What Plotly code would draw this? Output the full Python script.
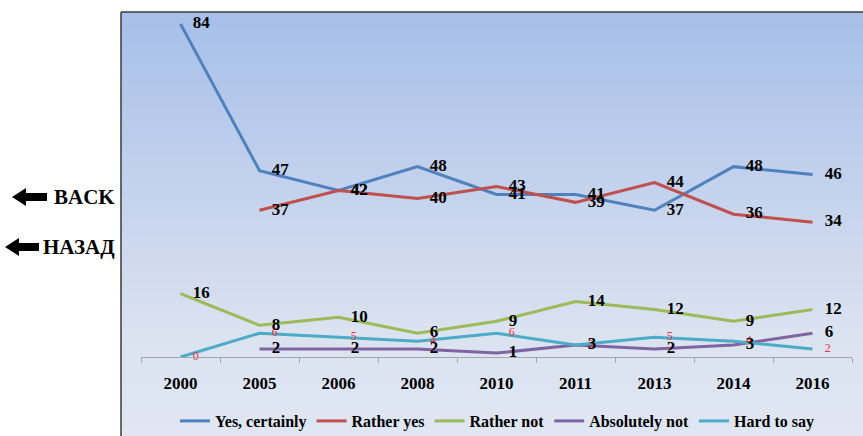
import plotly.graph_objects as go

years = ["2000", "2005", "2006", "2008", "2010", "2011", "2013", "2014", "2016"]
yes_certainly = [84, 47, 42, 48, 41, 41, 37, 48, 46]
rather_yes = [None, 37, 42, 40, 43, 39, 44, 36, 34]
rather_not = [16, 8, 10, 6, 9, 14, 12, 9, 12]
absolutely_not = [None, 2, 2, 2, 1, 3, 2, 3, 6]
hard_to_say = [0, 6, 5, 4, 6, 3, 5, 4, 2]

series = [
    ("Yes, certainly", yes_certainly, "#4f81bd"),
    ("Rather yes", rather_yes, "#c0504d"),
    ("Rather not", rather_not, "#9bbb59"),
    ("Absolutely not", absolutely_not, "#8064a2"),
    ("Hard to say", hard_to_say, "#4bacc6"),
]

W, H = 863, 436
L, R, T, B = 141, 11, 12, 79
pw, ph = W - L - R, H - T - B

def px2x(p):
    return (p - L) / pw

def py2y(p):
    return (H - B - p) / ph

fig = go.Figure()
serif = "Liberation Serif, Times New Roman, DejaVu Serif, serif"

for name, vals, col in series:
    fig.add_trace(go.Scatter(
        x=years, y=vals, name=name, mode="lines",
        line=dict(color=col, width=3), hoverinfo="skip",
    ))

label_order = [series[4]] + series[:4]
for name, vals, col in label_order:
    small = name == "Hard to say"
    fig.add_trace(go.Scatter(
        x=years, y=vals, name=name + " labels", mode="markers+text", showlegend=False,
        marker=dict(size=18, opacity=0, color=col),
        text=[None if v is None else str(v) for v in vals],
        textposition="middle right",
        textfont=dict(family=serif, size=17 if not small else 12,
                      color="#000000" if not small else "#e8323c",
                      weight="bold" if not small else "normal"),
        cliponaxis=False, hoverinfo="skip",
    ))

shapes = []
def lerp(a, b, t):
    return tuple(int(round(a[i] + (b[i] - a[i]) * t)) for i in range(3))
top_c = (0xa7, 0xbf, 0xe9)
mid_c = (0xdb, 0xe2, 0xf0)
bot_c = (0xe0, 0xe7, 0xf3)
y = 12
step = 4
while y < H:
    if y < 330:
        c = lerp(top_c, mid_c, (y - 12) / (330 - 12))
    else:
        c = lerp(mid_c, bot_c, (y - 330) / (H - 330))
    shapes.append(dict(type="rect", xref="paper", yref="paper",
                       x0=px2x(121), x1=px2x(W + 2), y0=py2y(y + step + 0.5), y1=py2y(y),
                       fillcolor="rgb(%d,%d,%d)" % c, line=dict(width=0), layer="below"))
    y += step
shapes.append(dict(type="line", xref="paper", yref="paper", x0=px2x(121), x1=px2x(121),
                   y0=py2y(12), y1=py2y(H + 2), line=dict(color="#3a3a3a", width=1.5)))
shapes.append(dict(type="line", xref="paper", yref="paper", x0=px2x(121), x1=px2x(W + 2),
                   y0=py2y(12), y1=py2y(12), line=dict(color="#3a3a3a", width=1.5)))

def arrow(x_tip, x_end, yc, head_len=14, head_h=9, shaft_h=4):
    pts = [(x_tip, yc), (x_tip + head_len, yc - head_h), (x_tip + head_len, yc - shaft_h),
           (x_end, yc - shaft_h), (x_end, yc + shaft_h), (x_tip + head_len, yc + shaft_h),
           (x_tip + head_len, yc + head_h)]
    path = "M " + " L ".join("%f,%f" % (px2x(a), py2y(b)) for a, b in pts) + " Z"
    return dict(type="path", xref="paper", yref="paper", path=path,
                fillcolor="#000000", line=dict(width=0))
shapes.append(arrow(12, 47, 197))
shapes.append(arrow(5, 39, 247))

annotations = [
    dict(text="BACK", x=px2x(52), y=py2y(197), xref="paper", yref="paper",
         xanchor="left", yanchor="middle", showarrow=False,
         font=dict(family=serif, size=21, color="#000", weight="bold")),
    dict(text="НАЗАД", x=px2x(41), y=py2y(247), xref="paper", yref="paper",
         xanchor="left", yanchor="middle", showarrow=False,
         font=dict(family=serif, size=21, color="#000", weight="bold")),
]

fig.update_layout(
    width=W, height=H,
    margin=dict(l=L, r=R, t=T, b=B),
    paper_bgcolor="#ffffff",
    plot_bgcolor="rgba(0,0,0,0)",
    shapes=shapes,
    annotations=annotations,
    showlegend=True,
    legend=dict(orientation="h", x=(497 / W), xanchor="center", xref="container",
                y=1 - 421 / H, yanchor="middle", yref="container",
                font=dict(family=serif, size=16, color="#000", weight="bold"),
                bgcolor="rgba(0,0,0,0)", traceorder="normal"),
    xaxis=dict(type="category", range=[-0.5, 8.5], showgrid=False,
               showline=True, linecolor="#a6a6a6", linewidth=1,
               ticks="outside", tickson="boundaries", ticklen=5, tickcolor="#a6a6a6",
               tickfont=dict(family=serif, size=17, color="#000", weight="bold"),
               ticklabelstandoff=11, fixedrange=True),
    yaxis=dict(range=[0, 87], visible=False, showgrid=False, zeroline=False),
)

fig.write_html("out.html", config={"displayModeBar": False},
               post_script="document.body.style.margin='0';document.body.style.overflow='hidden';")
